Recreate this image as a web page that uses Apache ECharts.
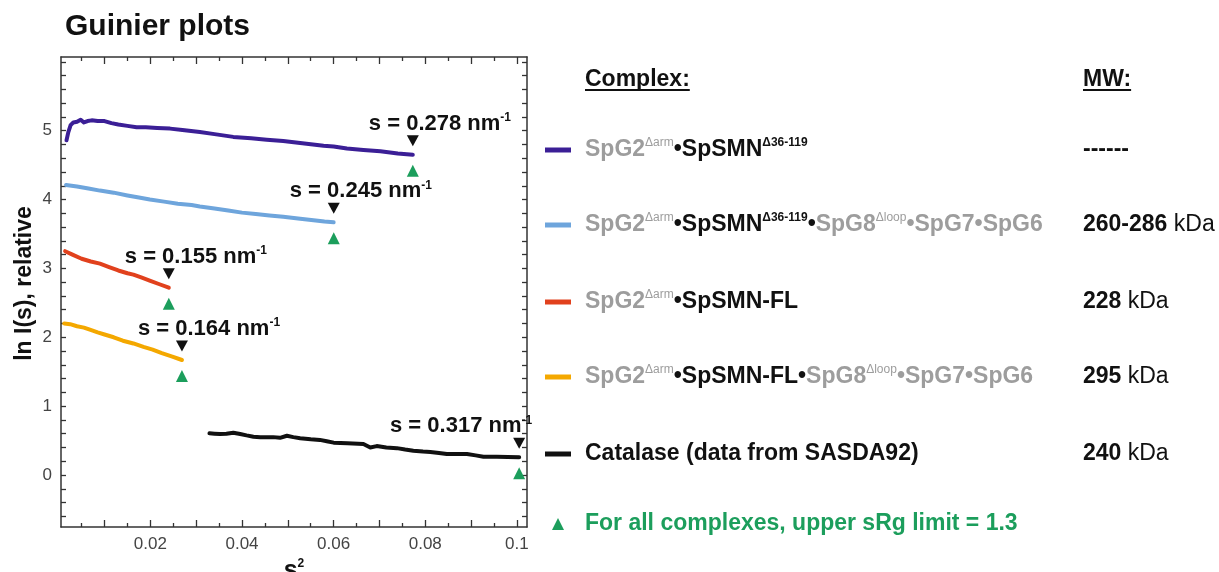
<!DOCTYPE html>
<html>
<head>
<meta charset="utf-8">
<script src="https://cdn.jsdelivr.net/npm/echarts@6/dist/echarts.min.js"></script>
<style>
  html, body { margin: 0; padding: 0; background: #ffffff; }
  #chart { width: 1219px; height: 572px; }
</style>
</head>
<body>
<div id="chart"></div>
<script>
const FONT = '"Liberation Sans", Arial, Helvetica, sans-serif';

// Guinier curves, points are [s², ln I(s)]
const purpleCurve = [
  [0.0017, 4.86], [0.0021, 4.98], [0.0026, 5.08], [0.0032, 5.12], [0.0040, 5.13],
  [0.0048, 5.16], [0.0055, 5.12], [0.0063, 5.14], [0.0072, 5.15], [0.0085, 5.14],
  [0.0100, 5.14], [0.0115, 5.11], [0.0130, 5.09], [0.0150, 5.07], [0.0170, 5.05],
  [0.0190, 5.05], [0.0215, 5.04], [0.0243, 5.03], [0.0270, 5.01], [0.0308, 4.98],
  [0.0340, 4.95], [0.0381, 4.91], [0.0420, 4.89], [0.0454, 4.87], [0.0490, 4.85],
  [0.0527, 4.82], [0.0578, 4.78], [0.0600, 4.77], [0.0629, 4.74], [0.0665, 4.72],
  [0.0702, 4.70], [0.0740, 4.67], [0.07728, 4.65]
];
const blueCurve = [
  [0.0016, 4.21], [0.0040, 4.19], [0.0065, 4.16], [0.0090, 4.13], [0.0120, 4.10],
  [0.0150, 4.06], [0.0175, 4.03], [0.0199, 4.00], [0.0230, 3.97], [0.0260, 3.94],
  [0.0290, 3.92], [0.0308, 3.90], [0.0340, 3.87], [0.0370, 3.84], [0.0400, 3.81],
  [0.0430, 3.79], [0.0460, 3.77], [0.0490, 3.75], [0.0527, 3.72], [0.0556, 3.70],
  [0.0580, 3.68], [0.0600, 3.67]
];
const redCurve = [
  [0.0014, 3.25], [0.0030, 3.20], [0.0050, 3.14], [0.0070, 3.10], [0.0090, 3.07],
  [0.0110, 3.02], [0.0130, 2.97], [0.0150, 2.93], [0.0163, 2.91], [0.0180, 2.87],
  [0.0200, 2.82], [0.0220, 2.77], [0.024025, 2.72]
];
const orangeCurve = [
  [0.0012, 2.20], [0.0025, 2.19], [0.0040, 2.16], [0.0055, 2.14], [0.0068, 2.11],
  [0.0085, 2.07], [0.0100, 2.04], [0.0120, 2.00], [0.0140, 1.95], [0.0163, 1.91],
  [0.0185, 1.86], [0.0205, 1.82], [0.0225, 1.77], [0.0248, 1.72], [0.026896, 1.67]
];
const catalaseCurve = [
  [0.0329, 0.605], [0.0340, 0.600], [0.0352, 0.595], [0.0366, 0.600], [0.0381, 0.614],
  [0.0396, 0.595], [0.0410, 0.575], [0.0425, 0.556], [0.0440, 0.550], [0.0454, 0.547],
  [0.0468, 0.550], [0.0483, 0.540], [0.0498, 0.570], [0.0512, 0.550], [0.0527, 0.535],
  [0.0550, 0.520], [0.0570, 0.510], [0.0585, 0.490], [0.0600, 0.470], [0.0630, 0.460],
  [0.0665, 0.450], [0.0680, 0.400], [0.0694, 0.420], [0.0715, 0.400], [0.0738, 0.390],
  [0.0756, 0.370], [0.0774, 0.353], [0.0795, 0.340], [0.0811, 0.334], [0.0830, 0.320],
  [0.0847, 0.305], [0.0870, 0.305], [0.0891, 0.305], [0.0910, 0.285], [0.0927, 0.266],
  [0.0956, 0.266], [0.0980, 0.262], [0.100489, 0.257]
];

const curves = [purpleCurve, blueCurve, redCurve, orangeCurve, catalaseCurve];
const seriesNames = [
  'SpG2Δarm•SpSMNΔ36-119',
  'SpG2Δarm•SpSMNΔ36-119•SpG8Δloop•SpG7•SpG6',
  'SpG2Δarm•SpSMN-FL',
  'SpG2Δarm•SpSMN-FL•SpG8Δloop•SpG7•SpG6',
  'Catalase (data from SASDA92)'
];
const seriesColors = ['#3b1f96', '#6ea5dc', '#e1411d', '#f4a800', '#111111'];

// upper fitting limit in s (nm⁻¹) for each curve
const sLimits = [0.278, 0.245, 0.155, 0.164, 0.317];

// molecular weights
const mwValues = ['------', '260-286', '228', '295', '240'];
const mwUnits = ['', ' kDa', ' kDa', ' kDa', ' kDa'];

// axis ticks
const xLabelTicks = [0.02, 0.04, 0.06, 0.08, 0.1];
const xMajorTicks = [0.01, 0.02, 0.03, 0.04, 0.05, 0.06, 0.07, 0.08, 0.09, 0.1];
const xMinorTicks = [0.005, 0.015, 0.025, 0.035, 0.045, 0.055, 0.065, 0.075, 0.085, 0.095];
const yLabelTicks = [0, 1, 2, 3, 4, 5];
const yTicks = [-0.6, -0.4, -0.2, 0, 0.2, 0.4, 0.6, 0.8, 1, 1.2, 1.4, 1.6, 1.8, 2, 2.2, 2.4,
  2.6, 2.8, 3, 3.2, 3.4, 3.6, 3.8, 4, 4.2, 4.4, 4.6, 4.8, 5, 5.2, 5.4, 5.6, 5.8, 6];

const X_MIN = 0.0005, X_MAX = 0.1022;
const Y_MIN = -0.755, Y_MAX = 6.07;

const AXIS_COLOR = '#333333';
const GREEN = '#1c9e5c';

function xAxisDef(position, ticks, len, showLine, extra) {
  return Object.assign({
    type: 'value', position, min: X_MIN, max: X_MAX,
    axisLine: { show: showLine, onZero: false, lineStyle: { color: AXIS_COLOR, width: 1.5 } },
    axisTick: { show: true, inside: true, length: len, customValues: ticks,
      lineStyle: { color: AXIS_COLOR, width: 1.3 } },
    axisLabel: { show: false },
    splitLine: { show: false }
  }, extra || {});
}
function yAxisDef(position, extra) {
  return Object.assign({
    type: 'value', position, min: Y_MIN, max: Y_MAX,
    axisLine: { show: true, onZero: false, lineStyle: { color: AXIS_COLOR, width: 1.5 } },
    axisTick: { show: true, inside: true, length: 5, customValues: yTicks,
      lineStyle: { color: AXIS_COLOR, width: 1.3 } },
    axisLabel: { show: false },
    splitLine: { show: false }
  }, extra || {});
}

const lineSeries = curves.map((data, i) => ({
  name: seriesNames[i],
  type: 'line',
  data,
  showSymbol: false,
  symbol: 'none',
  smooth: false,
  lineStyle: { color: seriesColors[i], width: 4, cap: 'round', join: 'round' },
  itemStyle: { color: seriesColors[i] },
  z: 3
}));

// end point of each curve, placed at s² of the fitting limit
const limitPoints = sLimits.map((s, i) => [s * s, curves[i][curves[i].length - 1][1]]);

const blackArrows = {
  type: 'scatter', data: limitPoints, symbol: 'triangle', symbolRotate: 180,
  symbolSize: [12, 11], symbolOffset: [0, -14],
  itemStyle: { color: '#111111', opacity: 1 }, silent: true, z: 5
};
const greenArrows = {
  type: 'scatter', data: limitPoints, symbol: 'triangle',
  symbolSize: [12, 12], symbolOffset: [0, 16],
  itemStyle: { color: GREEN, opacity: 1 }, silent: true, z: 5
};
const limitLabels = {
  type: 'scatter', symbolSize: 0, silent: true, z: 6,
  itemStyle: { opacity: 1, color: '#111111' },
  data: limitPoints.map((p, i) => {
    const last = i === limitPoints.length - 1;
    return {
      value: p,
      label: {
        show: true, position: 'inside',
        align: last ? 'right' : 'left', verticalAlign: 'middle',
        offset: last ? [13, -31] : [-44, -31],
        formatter: '{m|s = ' + sLimits[i].toFixed(3) + ' nm}{sup|-1}',
        rich: {
          m: { fontSize: 22, fontWeight: 'bold', color: '#111111', opacity: 1, fontFamily: FONT, lineHeight: 24 },
          sup: { fontSize: 12, fontWeight: 'bold', color: '#111111', opacity: 1, fontFamily: FONT, lineHeight: 14, verticalAlign: 'top' }
        }
      }
    };
  })
};

// ---- text panel on the right ----
const measureCtx = document.createElement('canvas').getContext('2d');
function textWidth(txt, font) { measureCtx.font = font; return measureCtx.measureText(txt).width; }

const PANEL_X = 585, MW_X = 1083, HEAD_Y = 80;
const ROW_Y = [150, 225, 302, 377, 454];
const NOTE_Y = 524;
const HEAD_FONT = 'bold 23px ' + FONT;

const legendRich = {
  g: { fill: '#9d9d9d', fontSize: 23, fontWeight: 'bold', fontFamily: FONT, lineHeight: 26 },
  b: { fill: '#111111', fontSize: 23, fontWeight: 'bold', fontFamily: FONT, lineHeight: 26 },
  gs: { fill: '#9d9d9d', fontSize: 12, fontFamily: FONT, lineHeight: 12, verticalAlign: 'top' },
  bs: { fill: '#111111', fontSize: 12, fontWeight: 'bold', fontFamily: FONT, lineHeight: 12, verticalAlign: 'top' },
  u: { fill: '#111111', fontSize: 23, fontFamily: FONT, lineHeight: 26 }
};
const legendLabels = [
  '{g|SpG2}{gs|Δarm}{b|•SpSMN}{bs|Δ36-119}',
  '{g|SpG2}{gs|Δarm}{b|•SpSMN}{bs|Δ36-119}{b|•}{g|SpG8}{gs|Δloop}{g|•SpG7•SpG6}',
  '{g|SpG2}{gs|Δarm}{b|•SpSMN-FL}',
  '{g|SpG2}{gs|Δarm}{b|•SpSMN-FL•}{g|SpG8}{gs|Δloop}{g|•SpG7•SpG6}',
  '{b|Catalase (data from SASDA92)}'
];

const graphics = [];
// column headers, underlined
[['Complex:', PANEL_X], ['MW:', MW_X]].forEach(([txt, x]) => {
  graphics.push({ type: 'text', x, y: HEAD_Y,
    style: { text: txt, font: HEAD_FONT, fill: '#111111', verticalAlign: 'middle' } });
  graphics.push({ type: 'line', shape: { x1: x, y1: HEAD_Y + 10, x2: x + textWidth(txt, HEAD_FONT), y2: HEAD_Y + 10 },
    style: { stroke: '#111111', lineWidth: 1.8 } });
});
ROW_Y.forEach((y, i) => {
  graphics.push({ type: 'rect', shape: { x: 545, y: y - 2.5, width: 26, height: 5 },
    style: { fill: seriesColors[i] } });
  graphics.push({ type: 'text', x: PANEL_X, y,
    style: { text: legendLabels[i], rich: legendRich, verticalAlign: 'middle' } });
  graphics.push({ type: 'text', x: MW_X, y,
    style: { text: '{b|' + mwValues[i] + '}' + (mwUnits[i] ? '{u|' + mwUnits[i] + '}' : ''),
      rich: legendRich, verticalAlign: 'middle' } });
});
graphics.push({ type: 'polygon', shape: { points: [[552, NOTE_Y + 6], [564, NOTE_Y + 6], [558, NOTE_Y - 6]] },
  style: { fill: GREEN } });
graphics.push({ type: 'text', x: PANEL_X, y: NOTE_Y,
  style: { text: 'For all complexes, upper sRg limit = 1.3', font: HEAD_FONT, fill: GREEN, verticalAlign: 'middle' } });

const option = {
  backgroundColor: '#ffffff',
  animation: false,
  textStyle: { fontFamily: FONT },
  title: {
    text: 'Guinier plots', left: 60, top: 7,
    textStyle: { fontSize: 30, fontWeight: 'bold', color: '#111111', fontFamily: FONT }
  },
  grid: { left: 61, right: 692, top: 57, bottom: 45, containLabel: false, outerBoundsMode: 'none' },
  xAxis: [
    xAxisDef('bottom', xMajorTicks, 7, true, {
      axisLabel: {
        show: true, customValues: xLabelTicks, margin: 9, color: '#444444', fontSize: 17,
        fontFamily: FONT, formatter: v => String(parseFloat(Number(v).toFixed(3)))
      },
      name: '{s|s}{sup|2}', nameLocation: 'middle', nameGap: 26,
      nameTextStyle: {
        rich: {
          s: { fontSize: 25, fontWeight: 'bold', color: '#111111', fontFamily: FONT, lineHeight: 26 },
          sup: { fontSize: 12, fontWeight: 'bold', color: '#111111', fontFamily: FONT, lineHeight: 13, verticalAlign: 'top' }
        }
      }
    }),
    xAxisDef('bottom', xMinorTicks, 4, false),
    xAxisDef('top', xMajorTicks, 7, true),
    xAxisDef('top', xMinorTicks, 4, false)
  ],
  yAxis: [
    yAxisDef('left', {
      axisLabel: { show: true, customValues: yLabelTicks, margin: 9, color: '#444444', fontSize: 17, fontFamily: FONT },
      name: 'ln I(s), relative', nameLocation: 'middle', nameRotate: 90, nameGap: 25,
      nameTextStyle: { fontSize: 23, fontWeight: 'bold', color: '#111111', fontFamily: FONT, padding: [0, 0, 0, 17] }
    }),
    yAxisDef('right')
  ],
  series: lineSeries.concat([blackArrows, greenArrows, limitLabels]),
  graphic: graphics
};

const chart = echarts.init(document.getElementById('chart'), null, { renderer: 'canvas' });
chart.setOption(option);
</script>
</body>
</html>
